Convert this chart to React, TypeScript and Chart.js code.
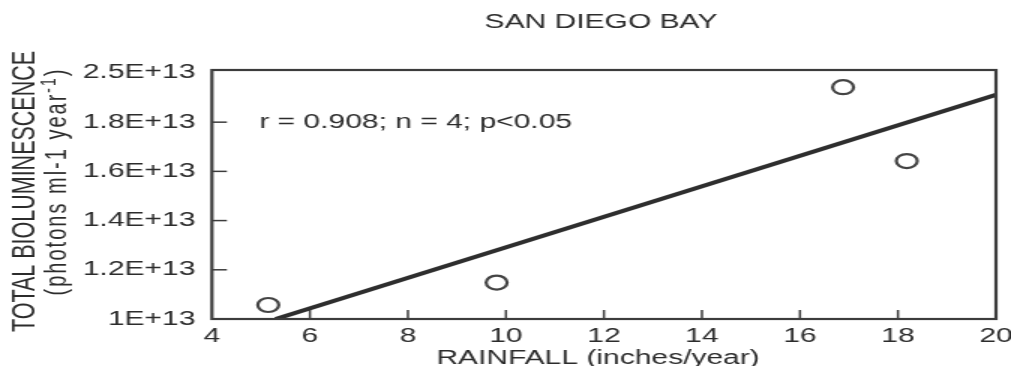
import React, { useEffect, useRef } from "react";
import { Chart, registerables } from "chart.js";

Chart.register(...registerables);

// ---- data ----
const rainfall = [5.15, 9.81, 16.88, 18.18];
const bioluminescence = [1.057e13, 1.148e13, 1.942e13, 1.642e13];
const fitLineX = [5.3, 20];
const fitLineY = [1.0e13, 1.911e13];
const xTickValues = [4, 6, 8, 10, 12, 14, 16, 18, 20];
const yTickValues = [1.0e13, 1.2e13, 1.4e13, 1.6e13, 1.8e13, 2.0e13];
const yTickLabels = ["1E+13", "1.2E+13", "1.4E+13", "1.6E+13", "1.8E+13", "2.5E+13"];
const chartTitle = "SAN DIEGO BAY";
const xAxisTitle = "RAINFALL (inches/year)";
const yAxisTitleLine1 = "TOTAL BIOLUMINESCENCE";
const yAxisTitleLine2 = ["(photons ml-1 year", "-1", ")"];
const statsText = "r = 0.908; n = 4; p<0.05";

const FONT = "'Liberation Sans', Arial, Helvetica, sans-serif";
const INK = "#2c2c2c";
const CANVAS_W = 674; // drawn narrow, stretched horizontally by CSS like the scan
const CANVAS_H = 366;

const framePlugin = {
  id: "framePlugin",
  afterDatasetsDraw(chart: any) {
    const { ctx, chartArea } = chart;
    const { left, right, top, bottom } = chartArea;
    ctx.save();
    ctx.strokeStyle = "#3c3c3c";
    ctx.lineWidth = 2.2;
    ctx.strokeRect(left, top, right - left, bottom - top);
    ctx.lineWidth = 1.5;
    const ys = chart.scales.y;
    ys.ticks.forEach((t: any, i: number) => {
      if (i === 0 || i === ys.ticks.length - 1) return;
      const y = ys.getPixelForValue(t.value);
      ctx.beginPath();
      ctx.moveTo(left, y);
      ctx.lineTo(left + 10, y);
      ctx.stroke();
    });
    const xs = chart.scales.x;
    xs.ticks.forEach((t: any, i: number) => {
      if (i === 0 || i === xs.ticks.length - 1) return;
      const x = xs.getPixelForValue(t.value);
      ctx.beginPath();
      ctx.moveTo(x, bottom);
      ctx.lineTo(x, bottom - 9);
      ctx.stroke();
    });
    ctx.restore();
  },
  afterDraw(chart: any) {
    const { ctx } = chart;
    ctx.save();
    ctx.fillStyle = INK;
    ctx.textBaseline = "middle";
    ctx.textAlign = "center";
    ctx.font = `20px ${FONT}`;
    ctx.fillText(chartTitle, 400.7, 22);
    ctx.fillText(xAxisTitle, 398.7, 358);
    ctx.textAlign = "left";
    ctx.fillText(statsText, 172.9, 122);

    // y axis title, line 1
    ctx.save();
    ctx.translate(22.5, 191.5);
    ctx.rotate(-Math.PI / 2);
    ctx.textAlign = "center";
    ctx.textBaseline = "alphabetic";
    ctx.font = `21.5px ${FONT}`;
    ctx.fillText(yAxisTitleLine1, 0, 0);
    ctx.restore();

    // y axis title, line 2 with superscript
    ctx.save();
    ctx.translate(44, 181.5);
    ctx.rotate(-Math.PI / 2);
    ctx.textAlign = "left";
    ctx.textBaseline = "alphabetic";
    try {
      (ctx as any).letterSpacing = "2px";
    } catch (e) {}
    const mainFont = `20px ${FONT}`;
    const supFont = `14px ${FONT}`;
    const widths = yAxisTitleLine2.map((p, i) => {
      ctx.font = i === 1 ? supFont : mainFont;
      return ctx.measureText(p).width;
    });
    const total = widths.reduce((a, b) => a + b, 0);
    let cx = -total / 2;
    yAxisTitleLine2.forEach((p, i) => {
      ctx.font = i === 1 ? supFont : mainFont;
      ctx.fillText(p, cx, i === 1 ? -7 : 0);
      cx += widths[i];
    });
    ctx.restore();

    ctx.restore();
  },
};

export default function App() {
  const canvasRef = useRef<HTMLCanvasElement | null>(null);

  useEffect(() => {
    const canvas = canvasRef.current;
    if (!canvas) return;
    const points = rainfall.map((x, i) => ({ x, y: bioluminescence[i] }));
    const fit = fitLineX.map((x, i) => ({ x, y: fitLineY[i] }));
    const chart = new Chart(canvas, {
      type: "scatter",
      data: {
        datasets: [
          {
            type: "line",
            data: fit,
            borderColor: "#2e2e2e",
            borderWidth: 4,
            pointRadius: 0,
            fill: false,
            order: 2,
          } as any,
          {
            type: "scatter",
            data: points,
            pointStyle: "circle",
            pointRadius: 7,
            borderWidth: 2.2,
            borderColor: "#444",
            backgroundColor: "rgba(255,255,255,0)",
            order: 1,
          } as any,
        ],
      },
      options: {
        responsive: false,
        animation: false,
        devicePixelRatio: 1,
        layout: { padding: { top: 70, right: 10, left: 0, bottom: 0 } },
        plugins: {
          legend: { display: false },
          tooltip: { enabled: false },
          title: { display: false },
        },
        scales: {
          x: {
            type: "linear",
            min: 4,
            max: 20,
            afterBuildTicks: (scale: any) => {
              scale.ticks = xTickValues.map((v) => ({ value: v }));
            },
            afterFit: (scale: any) => {
              scale.height = 47;
              scale.paddingLeft = 0;
              scale.paddingRight = 0;
            },
            grid: { display: false, drawTicks: false },
            border: { display: false },
            ticks: {
              padding: 5,
              maxRotation: 0,
              autoSkip: false,
              color: INK,
              font: { family: FONT, size: 20 },
              callback: (v: any) => String(v),
            },
          },
          y: {
            type: "linear",
            min: 1.0e13,
            max: 2.012e13,
            afterBuildTicks: (scale: any) => {
              scale.ticks = yTickValues.map((v) => ({ value: v }));
            },
            afterFit: (scale: any) => {
              scale.width = 141.3;
            },
            grid: { display: false, drawTicks: false },
            border: { display: false },
            ticks: {
              padding: 11,
              autoSkip: false,
              color: INK,
              font: { family: FONT, size: 20 },
              callback: (_v: any, i: number) => yTickLabels[i],
            },
          },
        },
      },
      plugins: [framePlugin],
    });
    return () => chart.destroy();
  }, []);

  return (
    <canvas
      ref={canvasRef}
      width={CANVAS_W}
      height={CANVAS_H}
      style={{
        position: "absolute",
        left: 0,
        top: 0,
        width: "1011px",
        height: "366px",
        background: "#fff",
      }}
    />
  );
}
